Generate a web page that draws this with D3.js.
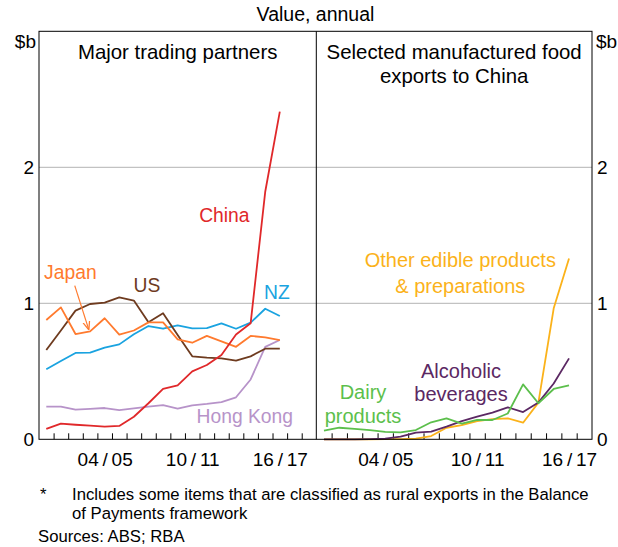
<!DOCTYPE html>
<html>
<head>
<meta charset="utf-8">
<script src="https://cdn.jsdelivr.net/npm/d3@7"></script>
<style>
  body { margin: 0; background: #fff; }
  svg { display: block; font-family: "Liberation Sans", Arial, sans-serif; }
</style>
</head>
<body>
<svg width="618" height="547"></svg>
<script>
// financial years on the axis (left panel runs one year longer than right)
const years = ["00/01","01/02","02/03","03/04","04/05","05/06","06/07","07/08","08/09","09/10",
               "10/11","11/12","12/13","13/14","14/15","15/16","16/17","17/18","18/19"];
const tickYears = ["04/05", "10/11", "16/17"];
const yTicks = [0, 1, 2];

// left panel, $b, 00/01 .. 16/17
const china    = [0.076,0.115,0.107,0.100,0.093,0.098,0.166,0.265,0.370,0.397,0.500,0.546,0.620,0.770,0.853,1.820,2.410];
const japan    = [0.877,0.970,0.774,0.794,0.890,0.770,0.800,0.860,0.860,0.735,0.710,0.760,0.720,0.680,0.760,0.750,0.730];
const us       = [0.657,0.800,0.946,0.995,1.005,1.044,1.020,0.860,0.927,0.767,0.610,0.600,0.595,0.578,0.610,0.666,0.666];
const nz       = [0.515,0.576,0.635,0.637,0.674,0.698,0.772,0.833,0.813,0.838,0.816,0.818,0.853,0.813,0.858,0.960,0.907];
const hongKong = [0.240,0.240,0.218,0.223,0.230,0.215,0.228,0.240,0.252,0.225,0.250,0.260,0.274,0.309,0.440,0.680,0.730];

// right panel, $b, 00/01 .. 16/17
const dairy     = [0.063,0.085,0.076,0.068,0.054,0.051,0.068,0.125,0.154,0.115,0.142,0.142,0.190,0.404,0.265,0.370,0.397];
const alcoholic = [0.000,0.000,0.000,0.002,0.005,0.020,0.049,0.056,0.093,0.134,0.166,0.196,0.235,0.200,0.270,0.410,0.595];
const otherFood = [0.000,0.000,0.000,0.000,0.001,0.002,0.005,0.024,0.085,0.105,0.134,0.149,0.154,0.122,0.270,0.963,1.330];

const svg = d3.select("svg");
const plotTop = 31.3, plotBottom = 439.3;
const leftX0 = 39, mid = 316.3, rightX1 = 592;
const fs = 19;

const y = d3.scaleLinear().domain([0, 3]).range([plotBottom, plotTop]);
const xL = d3.scaleLinear().domain([0, 19]).range([leftX0, mid]);
const xR = d3.scaleLinear().domain([0, 18]).range([mid, rightX1]);

// gridlines
svg.append("g")
  .selectAll("line").data([1, 2]).join("line")
  .attr("x1", leftX0).attr("x2", rightX1)
  .attr("y1", d => y(d)).attr("y2", d => y(d))
  .attr("stroke", "#b3b3b3").attr("stroke-width", 1);

// x ticks (inward) and labels for each panel
function xAxes(x, n) {
  svg.append("g")
    .attr("transform", `translate(0,${plotBottom})`)
    .call(d3.axisBottom(x).tickValues(d3.range(1, n)).tickSize(-6).tickFormat(""))
    .call(g => g.select(".domain").remove())
    .call(g => g.selectAll("line").attr("stroke", "#000"));
  svg.append("g")
    .attr("transform", `translate(0,${plotBottom})`)
    .call(d3.axisBottom(x)
      .tickValues(tickYears.map(t => years.indexOf(t) + 0.5))
      .tickSize(0).tickPadding(13)
      .tickFormat(d => years[d - 0.5].replace("/", "\u2009/\u2009")))
    .call(g => g.select(".domain").remove())
    .call(g => g.selectAll("text").attr("font-size", fs).attr("font-family", "Liberation Sans, Arial, sans-serif").attr("fill", "#000"));
}
xAxes(xL, 19);
xAxes(xR, 18);

// y labels
svg.append("g")
  .attr("transform", `translate(${leftX0},0)`)
  .call(d3.axisLeft(y).tickValues(yTicks).tickSize(0).tickPadding(5).tickFormat(d3.format("d")))
  .call(g => g.select(".domain").remove())
  .call(g => g.selectAll("text").attr("font-size", fs).attr("font-family", "Liberation Sans, Arial, sans-serif").attr("fill", "#000"));
svg.append("g")
  .attr("transform", `translate(${rightX1},0)`)
  .call(d3.axisRight(y).tickValues(yTicks).tickSize(0).tickPadding(5).tickFormat(d3.format("d")))
  .call(g => g.select(".domain").remove())
  .call(g => g.selectAll("text").attr("font-size", fs).attr("font-family", "Liberation Sans, Arial, sans-serif").attr("fill", "#000"));

// lines
function drawLine(x, vals, color) {
  const line = d3.line().x((d, i) => x(i + 0.5)).y(d => y(d));
  svg.append("path")
    .attr("d", line(vals))
    .attr("fill", "none")
    .attr("stroke", color)
    .attr("stroke-width", 1.8)
    .attr("stroke-linejoin", "round");
}
drawLine(xL, hongKong, "#b793c9");
drawLine(xL, nz, "#1aa3e0");
drawLine(xL, us, "#6e3b1f");
drawLine(xL, japan, "#ff7a2e");
drawLine(xL, china, "#e0282a");
drawLine(xR, otherFood, "#fbb21a");
drawLine(xR, alcoholic, "#5b2863");
drawLine(xR, dairy, "#5cbf4c");

// frame
svg.append("rect")
  .attr("x", leftX0).attr("y", plotTop)
  .attr("width", rightX1 - leftX0).attr("height", plotBottom - plotTop)
  .attr("fill", "none").attr("stroke", "#000").attr("stroke-width", 1);
svg.append("line")
  .attr("x1", mid).attr("x2", mid).attr("y1", plotTop).attr("y2", plotBottom)
  .attr("stroke", "#000").attr("stroke-width", 1);

// titles
function txt(x, yy, s, opts = {}) {
  return svg.append("text")
    .attr("x", x).attr("y", yy)
    .attr("text-anchor", opts.anchor || "middle")
    .attr("font-size", opts.size || fs)
    .attr("fill", opts.color || "#000")
    .text(s);
}
txt((leftX0 + rightX1) / 2, 21.3, "Value, annual", {size: 19.5});
txt((leftX0 + mid) / 2, 59.3, "Major trading partners", {size: 20.4});
txt((mid + rightX1) / 2, 59.3, "Selected manufactured food", {size: 20.4});
txt((mid + rightX1) / 2, 83, "exports to China", {size: 20.4});
txt(36, 48, "$b", {anchor: "end"});
txt(596, 48, "$b", {anchor: "start"});

// series labels, placed in data units
const labL = [
  ["China", 12.7, 1.60, "#e0282a"],
  ["Japan", 2.15, 1.18, "#ff7a2e"],
  ["US", 7.4, 1.08, "#6e3b1f"],
  ["NZ", 16.3, 1.03, "#1aa3e0"],
  ["Hong Kong", 14.1, 0.12, "#b793c9"]
];
labL.forEach(d => txt(xL(d[1]), y(d[2]), d[0], {color: d[3], size: 19.3}));
const labR = [
  ["Other edible products", 9.4, 1.265, "#fbb21a"],
  ["& preparations", 9.4, 1.078, "#fbb21a"],
  ["Alcoholic", 9.45, 0.451, "#5b2863"],
  ["beverages", 9.45, 0.282, "#5b2863"],
  ["Dairy", 3.05, 0.294, "#5cbf4c"],
  ["products", 3.05, 0.122, "#5cbf4c"]
];
labR.forEach(d => txt(xR(d[1]), y(d[2]), d[0], {color: d[3], size: 20}));

// Japan pointer arrow
svg.append("defs").append("marker")
  .attr("id", "ah").attr("viewBox", "0 0 10 10")
  .attr("refX", 9).attr("refY", 5)
  .attr("markerWidth", 7).attr("markerHeight", 7)
  .attr("orient", "auto")
  .append("path").attr("d", "M0,1 L10,5 L0,9").attr("fill", "none").attr("stroke", "#ff7a2e").attr("stroke-width", 1.5);
svg.append("line")
  .attr("x1", xL(2.45)).attr("y1", y(1.13))
  .attr("x2", xL(3.4)).attr("y2", y(0.81))
  .attr("stroke", "#ff7a2e").attr("stroke-width", 1.2)
  .attr("marker-end", "url(#ah)");

// footnotes
const fn = 16.7;
txt(40, 500, "*", {anchor: "start", size: fn});
txt(72, 500, "Includes some items that are classified as rural exports in the Balance", {anchor: "start", size: fn});
txt(72, 519, "of Payments framework", {anchor: "start", size: fn});
txt(38, 542, "Sources: ABS; RBA", {anchor: "start", size: fn});
</script>
</body>
</html>
